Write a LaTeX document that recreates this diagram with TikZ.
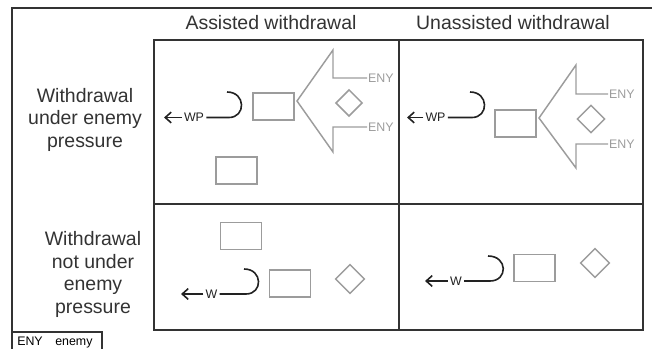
\documentclass[tikz,border=0pt]{standalone}
\usepackage{fontspec}
\setmainfont{Liberation Sans}
\usetikzlibrary{shapes.geometric, arrows.meta}
\definecolor{Frame}{HTML}{333333}
\definecolor{Unit}{HTML}{9C9C9C}
\definecolor{Move}{HTML}{222222}

\tikzset{
  grid/.style={Frame, line width=1.5pt},
  head/.style={font=\fontsize{14.6}{16.8}\selectfont, text=Frame, anchor=base, inner sep=0pt},
  small/.style={font=\fontsize{9.3}{11}\selectfont},
  unit/.style={draw=Unit, line width=1.1pt, minimum width=30.75pt, minimum height=20.25pt, inner sep=0pt},
  objective/.style={diamond, draw=Unit, line width=1.1pt, minimum width=20pt, minimum height=20pt, inner sep=0pt},
  attack/.style={Unit, line width=1.1pt},
  eny/.style={small, text=Unit, inner sep=0.6pt, anchor=west},
  mv/.style={small, text=Move, inner sep=1.5pt},
  hook/.style={Move, line width=1.2pt}
}

\begin{document}
\begin{tikzpicture}[x=0.75pt, y=-0.75pt, >={Straight Barb[length=4.5pt,width=8pt]}]

\useasboundingbox (0,0) rectangle (652,349);

\draw[grid] (655,8) -- (12,8) -- (12,352);
\draw[grid] (154,40) rectangle (643,330);
\draw[grid] (399,40) -- (399,330);
\draw[grid] (154,204) -- (643,204);

\node[head] (col1) at (271,30) {Assisted withdrawal};
\node[head] (col2) at (513,30) {Unassisted withdrawal};
\node[head, align=center] (row1) at (85,147) {Withdrawal\\under enemy\\pressure};
\node[head, align=center] (row2) at (93,313) {Withdrawal\\not under\\enemy\\pressure};

\node[unit] (r1) at (273.5,106.5) {};
\node[unit] (r2) at (236.5,170.5) {};
\node[objective] (d1) at (349,103) {};
\node[eny] (e1a) at (367,78) {ENY};
\node[eny] (e1b) at (367,127) {ENY};
\draw[attack] (e1a.west) -| (333,50) -- (297,101) -- (333,152) |- (e1b.west);

\node[mv] (wp1) at (194,117.5) {WP};
\coordinate (tip1) at (164,117.5);
\coordinate (hk1) at (229,117.5);
\coordinate (end1) at (227,92);
\draw[hook,->] (wp1) -- (tip1);
\draw[hook] (wp1) -- (hk1) .. controls +(17,0) and +(19,0) .. (end1);

\node[unit] (r3) at (515.5,123.5) {};
\node[objective, minimum width=21pt, minimum height=21pt] (d2) at (591,119) {};
\node[eny] (e2a) at (608,94) {ENY};
\node[eny] (e2b) at (608,144) {ENY};
\draw[attack] (e2a.west) -| (576,65) -- (539,118) -- (576,168) |- (e2b.west);

\node[mv] (wp2) at (435.5,117.5) {WP};
\coordinate (tip2) at (407,117.5);
\coordinate (hk2) at (472,117.5);
\coordinate (end2) at (470,92);
\draw[hook,->] (wp2) -- (tip2);
\draw[hook] (wp2) -- (hk2) .. controls +(17,0) and +(19,0) .. (end2);

\node[unit] (r4) at (241,236) {};
\node[unit] (r5) at (290,283.5) {};
\node[objective, minimum width=22pt, minimum height=22pt] (d3) at (350,279) {};

\node[mv] (w3) at (211.5,294) {W};
\coordinate (tip3) at (181,294);
\coordinate (hk3) at (246,294);
\coordinate (end3) at (244,269);
\draw[hook,->] (w3) -- (tip3);
\draw[hook] (w3) -- (hk3) .. controls +(17,0) and +(19,0) .. (end3);

\node[unit] (r6) at (534.5,268) {};
\node[objective, minimum width=22pt, minimum height=22pt] (d4) at (595,263) {};

\node[mv] (w4) at (456,281) {W};
\coordinate (tip4) at (425,281);
\coordinate (hk4) at (490,281);
\coordinate (end4) at (488,256);
\draw[hook,->] (w4) -- (tip4);
\draw[hook] (w4) -- (hk4) .. controls +(18,0) and +(20,0) .. (end4);

\draw[grid, line width=1.1pt] (12,332) -- (102,332) -- (102,352);
\node[small, anchor=base west, inner sep=0pt] (leg1) at (17,345) {ENY};
\node[small, anchor=base west, inner sep=0pt] (leg2) at (55,345) {enemy};

\end{tikzpicture}
\end{document}
